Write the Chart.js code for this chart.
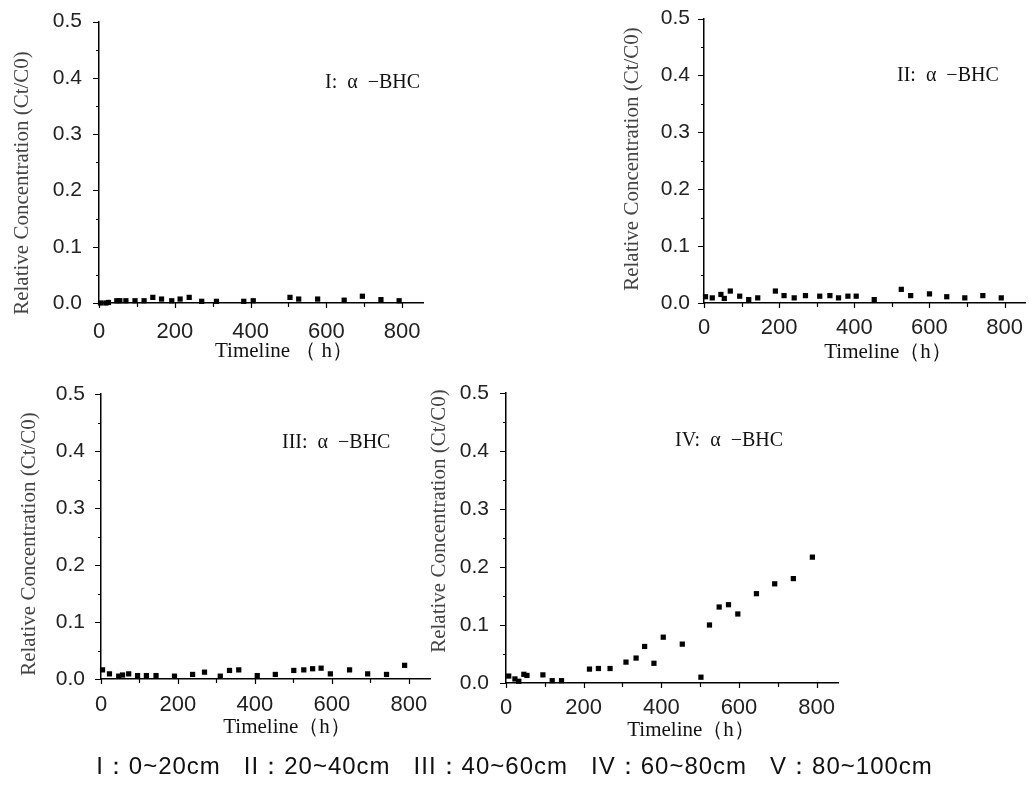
<!DOCTYPE html>
<html>
<head>
<meta charset="utf-8">
<script src="https://cdn.jsdelivr.net/npm/chart.js@4.4.1/dist/chart.umd.min.js"></script>
<style>
html,body{margin:0;padding:0;background:#fff;}
#wrap{position:relative;width:1029px;height:787px;overflow:hidden;background:#fff;}
#wrap canvas{position:absolute;left:0;top:0;}
#caption{position:absolute;left:0;width:1029px;top:752px;text-align:center;font-family:"Liberation Sans",Arial,sans-serif;font-size:24px;line-height:28px;letter-spacing:1px;white-space:pre;color:#111;}
</style>
</head>
<body>
<div id="wrap">
<canvas id="c1" width="1029" height="787"></canvas>
<canvas id="c2" width="1029" height="787"></canvas>
<canvas id="c3" width="1029" height="787"></canvas>
<canvas id="c4" width="1029" height="787"></canvas>
<div id="caption"></div>
</div>
<script>
// ---------------- DATA ----------------
const hoursI = [4, 18, 25, 47, 55, 71, 95, 119, 142, 165, 192, 214, 238, 271, 310, 382, 407, 504, 527, 577, 647, 695, 744, 792];
const concI  = [0.000, 0.000, 0.001, 0.004, 0.004, 0.004, 0.004, 0.004, 0.010, 0.007, 0.004, 0.007, 0.010, 0.003, 0.003, 0.003, 0.004, 0.010, 0.007, 0.007, 0.005, 0.012, 0.006, 0.004];

const hoursII = [4, 22, 45, 54, 70, 95, 119, 143, 190, 213, 240, 270, 308, 335, 358, 383, 405, 453, 525, 550, 600, 646, 694, 742, 791];
const concII  = [0.011, 0.009, 0.015, 0.008, 0.021, 0.012, 0.006, 0.009, 0.021, 0.013, 0.009, 0.013, 0.012, 0.013, 0.009, 0.012, 0.012, 0.006, 0.024, 0.013, 0.016, 0.011, 0.009, 0.013, 0.009];

const hoursIII = [4, 22, 46, 56, 72, 95, 118, 143, 191, 238, 269, 310, 334, 358, 406, 453, 501, 527, 550, 572, 596, 646, 693, 742, 789];
const concIII  = [0.016, 0.009, 0.005, 0.007, 0.009, 0.006, 0.006, 0.006, 0.005, 0.008, 0.012, 0.005, 0.015, 0.016, 0.006, 0.008, 0.015, 0.016, 0.018, 0.019, 0.009, 0.016, 0.009, 0.008, 0.024];

const hoursIV = [7, 23, 33, 46, 54, 95, 119, 143, 215, 238, 268, 309, 335, 357, 381, 405, 454, 502, 524, 549, 573, 597, 645, 692, 740, 789];
const concIV  = [0.012, 0.007, 0.003, 0.015, 0.013, 0.014, 0.004, 0.004, 0.024, 0.025, 0.025, 0.036, 0.043, 0.063, 0.034, 0.079, 0.067, 0.010, 0.100, 0.131, 0.135, 0.119, 0.154, 0.171, 0.180, 0.217];

const xMajorTicks = [0, 200, 400, 600, 800];
const xMinorTicks = [100, 300, 500, 700];
const xTickLabels = ['0', '200', '400', '600', '800'];
const yMajorTicks = [0, 0.1, 0.2, 0.3, 0.4, 0.5];
const yMinorTicks = [0.05, 0.15, 0.25, 0.35, 0.45];
const yTickLabels = ['0.0', '0.1', '0.2', '0.3', '0.4', '0.5'];
const xMax = 855;
const yMax = 0.5;

const panelNames = ['I', 'II', 'III', 'IV'];
const compoundName = 'α  −BHC';
const yTitleText = 'Relative Concentration (Ct/C0)';
const xTitleTexts = ['Timeline （ h）', 'Timeline（h）', 'Timeline（h）', 'Timeline（h）'];
const captionText = 'I：0~20cm   II：20~40cm   III：40~60cm   IV：60~80cm   V：80~100cm';

// ---------------- LAYOUT (positions only) ----------------
const W = 1029, H = 787, Y_W = 60, X_H = 60;
const panels = [
  {id:'c1', hours:hoursI,   conc:concI,   area:{l:99,  t:21,  r:423,  b:303}, xPad:8, yPad:9, yT:[22, 183],  xT:[284, 351], lab:[325, 83]},
  {id:'c2', hours:hoursII,  conc:concII,  area:{l:704, t:18,  r:1029, b:303}, xPad:4, yPad:6, yT:[632, 159], xT:[888, 352], lab:[897, 76]},
  {id:'c3', hours:hoursIII, conc:concIII, area:{l:101, t:394, r:430,  b:679}, xPad:5, yPad:8, yT:[29, 544],  xT:[287, 727], lab:[282, 443]},
  {id:'c4', hours:hoursIV,  conc:concIV,  area:{l:506, t:393, r:838,  b:683}, xPad:4, yPad:9, yT:[439, 521], xT:[691, 730], lab:[675, 441]}
];

const SERIF = '"Liberation Serif","Times New Roman",serif';
const SANS = '"Liberation Sans",Arial,sans-serif';

const deco = {
  id: 'deco',
  beforeDatasetsDraw(chart, args, o) {
    const ctx = chart.ctx, xs = chart.scales.x, ys = chart.scales.y, ca = chart.chartArea;
    ctx.save();
    ctx.strokeStyle = '#000';
    ctx.lineWidth = 1.2;
    ctx.beginPath();
    xMajorTicks.forEach(v => { const p = Math.round(xs.getPixelForValue(v)) + 0.5; ctx.moveTo(p, ca.bottom); ctx.lineTo(p, ca.bottom + 5); });
    xMinorTicks.forEach(v => { const p = Math.round(xs.getPixelForValue(v)) + 0.5; ctx.moveTo(p, ca.bottom); ctx.lineTo(p, ca.bottom + 4); });
    yMajorTicks.forEach(v => { const p = Math.round(ys.getPixelForValue(v)) + 0.5; ctx.moveTo(ca.left, p); ctx.lineTo(ca.left - 6, p); });
    yMinorTicks.forEach(v => { const p = Math.round(ys.getPixelForValue(v)) + 0.5; ctx.moveTo(ca.left, p); ctx.lineTo(ca.left - 3, p); });
    ctx.stroke();

    // y axis title
    ctx.fillStyle = '#444';
    ctx.font = '21px ' + SERIF;
    ctx.textAlign = 'center';
    ctx.textBaseline = 'middle';
    ctx.save();
    ctx.translate(o.yT[0], o.yT[1]);
    ctx.rotate(-Math.PI / 2);
    ctx.fillText(yTitleText, 0, 0);
    ctx.restore();

    // x axis title
    ctx.fillStyle = '#111';
    ctx.font = '21px ' + SERIF;
    ctx.fillText(o.xTitle, o.xT[0], o.xT[1]);

    // panel label
    ctx.textAlign = 'left';
    ctx.fillStyle = '#111';
    ctx.font = '20px ' + SERIF;
    ctx.fillText(o.label, o.lab[0], o.lab[1]);
    ctx.restore();
  }
};

panels.forEach((p, k) => {
  const a = p.area;
  new Chart(document.getElementById(p.id), {
    type: 'scatter',
    data: {
      datasets: [{
        data: p.hours.map((h, i) => ({x: h, y: p.conc[i]})),
        pointStyle: 'rect',
        pointRadius: 3.7,
        pointHoverRadius: 3.7,
        backgroundColor: '#000',
        borderColor: '#000',
        borderWidth: 0,
        clip: false
      }]
    },
    options: {
      responsive: false,
      animation: false,
      devicePixelRatio: 1,
      events: [],
      layout: {padding: {left: a.l - Y_W, top: a.t, right: W - a.r, bottom: H - a.b - X_H}},
      plugins: {
        legend: {display: false},
        tooltip: {enabled: false},
        deco: {yT: p.yT, xT: p.xT, lab: p.lab, xTitle: xTitleTexts[k], label: panelNames[k] + ':  ' + compoundName}
      },
      scales: {
        x: {
          type: 'linear', min: 0, max: xMax,
          afterBuildTicks: s => { s.ticks = xMajorTicks.map(v => ({value: v})); },
          afterFit: s => { s.height = X_H; },
          grid: {display: false},
          border: {display: true, color: '#000', width: 1.5},
          ticks: {padding: p.xPad, color: '#222', autoSkip: false, maxRotation: 0,
                  font: {family: SANS, size: 22},
                  callback: (v, i) => xTickLabels[i]}
        },
        y: {
          type: 'linear', min: 0, max: yMax,
          afterBuildTicks: s => { s.ticks = yMajorTicks.map(v => ({value: v})); },
          afterFit: s => { s.width = Y_W; },
          grid: {display: false},
          border: {display: true, color: '#000', width: 1.5},
          ticks: {padding: p.yPad, color: '#222', autoSkip: false,
                  font: {family: SANS, size: 21},
                  callback: (v, i) => yTickLabels[i]}
        }
      }
    },
    plugins: [deco]
  });
});

document.getElementById('caption').textContent = captionText;
</script>
</body>
</html>
